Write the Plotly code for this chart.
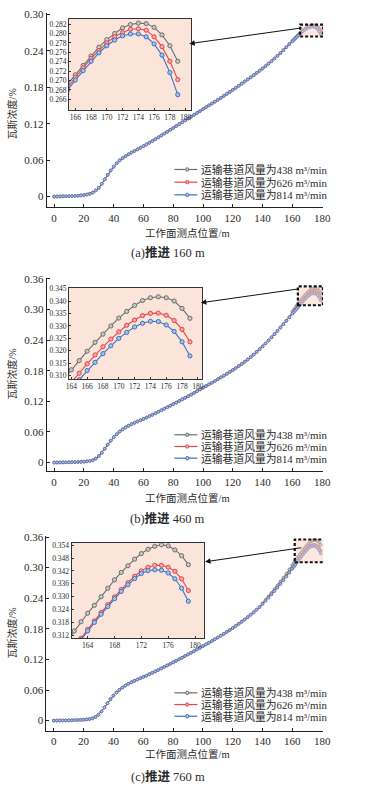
import plotly.graph_objects as go

# ---------------- data ----------------
series_names = ["运输巷道风量为438 m³/min", "运输巷道风量为626 m³/min", "运输巷道风量为814 m³/min"]
caption_tags = ["(a)", "(b)", "(c)"]
caption_words = ["推进", "推进", "推进"]
caption_dists = ["160 m", "460 m", "760 m"]
x_title = "工作面测点位置/m"
y_title = "瓦斯浓度/%"

main_xticks = [0, 20, 40, 60, 80, 100, 120, 140, 160, 180]
main_yticks_a = [0, 0.06, 0.12, 0.18, 0.24, 0.30]
main_yticktext_a = ["0", "0.06", "0.12", "0.18", "0.24", "0.30"]
main_yticks_bc = [0, 0.06, 0.12, 0.18, 0.24, 0.30, 0.36]
main_yticktext_bc = ["0", "0.06", "0.12", "0.18", "0.24", "0.30", "0.36"]

inset_xticks_a = [166, 168, 170, 172, 174, 176, 178, 180]
inset_yticks_a = [0.266, 0.268, 0.270, 0.272, 0.274, 0.276, 0.278, 0.280, 0.282]
inset_xticks_b = [164, 166, 168, 170, 172, 174, 176, 178, 180]
inset_yticks_b = [0.310, 0.315, 0.320, 0.325, 0.330, 0.335, 0.340, 0.345]
inset_xticks_c = [164, 168, 172, 176, 180]
inset_yticks_c = [0.312, 0.318, 0.324, 0.330, 0.336, 0.342, 0.348, 0.354]

# shared part of the curves (x = 0, 2, 4, ...)
base_x_a = list(range(0, 160, 2))
base_y_a = [0.0000, 0.0001, 0.0002, 0.0003, 0.0004, 0.0006, 0.0008, 0.0011, 0.0014, 0.0019,
            0.0025, 0.0033, 0.0046, 0.0066, 0.0100, 0.0145, 0.0210, 0.0282, 0.0358, 0.0430,
            0.0493, 0.0548, 0.0595, 0.0634, 0.0667, 0.0697, 0.0725, 0.0752, 0.0778, 0.0804,
            0.0830, 0.0858, 0.0886, 0.0915, 0.0945, 0.0975, 0.1006, 0.1037, 0.1068, 0.1099,
            0.1130, 0.1161, 0.1192, 0.1223, 0.1254, 0.1285, 0.1316, 0.1347, 0.1378, 0.1409,
            0.1440, 0.1471, 0.1502, 0.1533, 0.1564, 0.1595, 0.1627, 0.1660, 0.1692, 0.1725,
            0.1758, 0.1792, 0.1826, 0.1860, 0.1895, 0.1930, 0.1965, 0.2000, 0.2036, 0.2073,
            0.2110, 0.2150, 0.2190, 0.2231, 0.2274, 0.2318, 0.2364, 0.2412, 0.2462, 0.2514]
tail_x_a = list(range(160, 180))
tail_a = [
    [0.2565, 0.2590, 0.2615, 0.2640, 0.2667, 0.2692, 0.2712, 0.2732, 0.2752, 0.2771,
     0.2787, 0.2800, 0.2812, 0.2819, 0.2822, 0.2821, 0.2813, 0.2797, 0.2774, 0.2741],
    [0.2560, 0.2584, 0.2609, 0.2634, 0.2660, 0.2685, 0.2707, 0.2727, 0.2747, 0.2764,
     0.2780, 0.2793, 0.2802, 0.2809, 0.2810, 0.2807, 0.2793, 0.2772, 0.2741, 0.2702],
    [0.2555, 0.2580, 0.2604, 0.2629, 0.2654, 0.2679, 0.2701, 0.2721, 0.2741, 0.2759,
     0.2774, 0.2786, 0.2795, 0.2799, 0.2799, 0.2793, 0.2778, 0.2754, 0.2717, 0.2670],
]

base_x_b = list(range(0, 160, 2))
base_y_b = [0.0000, 0.0001, 0.0002, 0.0003, 0.0004, 0.0005, 0.0007, 0.0009, 0.0011, 0.0014,
            0.0018, 0.0024, 0.0033, 0.0048, 0.0078, 0.0128, 0.0193, 0.0270, 0.0352, 0.0430,
            0.0497, 0.0556, 0.0607, 0.0651, 0.0690, 0.0724, 0.0753, 0.0780, 0.0805, 0.0830,
            0.0855, 0.0882, 0.0909, 0.0937, 0.0966, 0.0995, 0.1025, 0.1055, 0.1085, 0.1115,
            0.1145, 0.1176, 0.1207, 0.1238, 0.1269, 0.1300, 0.1333, 0.1366, 0.1400, 0.1434,
            0.1468, 0.1500, 0.1533, 0.1566, 0.1600, 0.1635, 0.1670, 0.1705, 0.1741, 0.1778,
            0.1815, 0.1854, 0.1894, 0.1935, 0.1977, 0.2020, 0.2069, 0.2118, 0.2170, 0.2223,
            0.2278, 0.2335, 0.2394, 0.2455, 0.2518, 0.2583, 0.2648, 0.2714, 0.2781, 0.2850]
tail_x_b = list(range(160, 180))
tail_b = [
    [0.2960, 0.2998, 0.3040, 0.3082, 0.3123, 0.3160, 0.3198, 0.3234, 0.3267, 0.3300,
     0.3332, 0.3359, 0.3383, 0.3403, 0.3414, 0.3418, 0.3414, 0.3401, 0.3371, 0.3331],
    [0.2930, 0.2965, 0.3001, 0.3037, 0.3073, 0.3109, 0.3147, 0.3183, 0.3216, 0.3247,
     0.3276, 0.3303, 0.3324, 0.3342, 0.3351, 0.3352, 0.3343, 0.3322, 0.3286, 0.3236],
    [0.2915, 0.2947, 0.2980, 0.3012, 0.3045, 0.3083, 0.3120, 0.3153, 0.3188, 0.3220,
     0.3250, 0.3274, 0.3296, 0.3311, 0.3319, 0.3318, 0.3304, 0.3278, 0.3236, 0.3179],
]

base_x_c = list(range(0, 140, 2))
base_y_c = [0.0000, 0.0001, 0.0002, 0.0003, 0.0004, 0.0005, 0.0007, 0.0009, 0.0011, 0.0014,
            0.0018, 0.0023, 0.0031, 0.0045, 0.0072, 0.0118, 0.0180, 0.0258, 0.0340, 0.0420,
            0.0490, 0.0551, 0.0603, 0.0648, 0.0687, 0.0721, 0.0751, 0.0779, 0.0805, 0.0830,
            0.0855, 0.0881, 0.0908, 0.0936, 0.0964, 0.0993, 0.1022, 0.1051, 0.1081, 0.1111,
            0.1141, 0.1172, 0.1203, 0.1234, 0.1266, 0.1298, 0.1330, 0.1362, 0.1395, 0.1428,
            0.1461, 0.1494, 0.1527, 0.1561, 0.1595, 0.1630, 0.1666, 0.1702, 0.1739, 0.1777,
            0.1816, 0.1856, 0.1897, 0.1939, 0.1983, 0.2028, 0.2075, 0.2124, 0.2175, 0.2228]
tail_x_c = list(range(140, 160, 2)) + list(range(160, 180))
tail_c = [
    [0.2300, 0.2366, 0.2434, 0.2504, 0.2576, 0.2650, 0.2726, 0.2804, 0.2884, 0.2966,
     0.3051, 0.3095, 0.3139, 0.3182, 0.3222, 0.3259, 0.3299, 0.3339, 0.3378, 0.3413,
     0.3444, 0.3475, 0.3501, 0.3521, 0.3535, 0.3542, 0.3537, 0.3518, 0.3491, 0.3449],
    [0.2290, 0.2351, 0.2414, 0.2479, 0.2546, 0.2615, 0.2686, 0.2758, 0.2832, 0.2907,
     0.2984, 0.3024, 0.3064, 0.3105, 0.3147, 0.3186, 0.3225, 0.3262, 0.3298, 0.3333,
     0.3365, 0.3395, 0.3420, 0.3437, 0.3446, 0.3446, 0.3437, 0.3418, 0.3383, 0.3328],
    [0.2286, 0.2346, 0.2408, 0.2472, 0.2538, 0.2606, 0.2676, 0.2748, 0.2822, 0.2898,
     0.2976, 0.3016, 0.3057, 0.3098, 0.3139, 0.3179, 0.3217, 0.3253, 0.3290, 0.3324,
     0.3355, 0.3384, 0.3408, 0.3421, 0.3425, 0.3423, 0.3410, 0.3383, 0.3339, 0.3278],
]

# ---------------- styling ----------------
W, H = 365, 804
FONT = "Liberation Serif, Noto Sans CJK SC"
TXT = "#2a2a2a"
line_colors = ["#6e6e6e", "#e2474c", "#3f72bb"]
fill_colors = ["#c8c8c8", "#f5a6a6", "#a8c2e8"]
inset_bg = "#fbe5da"


def fx(px):
    return px / W


def fy(py):
    return 1 - py / H


panels = [
    dict(bx=base_x_a, by=base_y_a, tx=tail_x_a, ty=tail_a,
         main=dict(x=(45, 330), y=(8, 204), yr=(-0.018, 0.3025), yt=main_yticks_a, ytt=main_yticktext_a),
         inset=dict(x=(68, 194), y=(14, 106), xr=(165.2, 180.7), yr=(0.2637, 0.2831),
                    xt=inset_xticks_a, yt=inset_yticks_a),
         arrow=((192, 39), (306, 23)),
         legend_rows=(165.7, 178.5, 191.3),
         xtitle_y=230, caption_y=249, ytitle_y=110),
    dict(bx=base_x_b, by=base_y_b, tx=tail_x_b, ty=tail_b,
         main=dict(x=(45, 330), y=(275, 470), yr=(-0.0175, 0.362), yt=main_yticks_bc, ytt=main_yticktext_bc),
         inset=dict(x=(68, 205), y=(285, 377), xr=(163.7, 180.5), yr=(0.3085, 0.3454),
                    xt=inset_xticks_b, yt=inset_yticks_b),
         arrow=((204, 300), (302.7, 286)),
         legend_rows=(433, 444.8, 456.6),
         xtitle_y=496.7, caption_y=517, ytitle_y=372),
    dict(bx=base_x_c, by=base_y_c, tx=tail_x_c, ty=tail_c,
         main=dict(x=(44.7, 330), y=(535, 731), yr=(-0.0195, 0.362), yt=main_yticks_bc, ytt=main_yticktext_bc),
         inset=dict(x=(70.7, 207), y=(541.7, 638), xr=(161.6, 181.3), yr=(0.3105, 0.3552),
                    xt=inset_xticks_c, yt=inset_yticks_c),
         arrow=((208.3, 561), (306, 546.7)),
         legend_rows=(693, 704.8, 716.6),
         xtitle_y=755, caption_y=777, ytitle_y=633),
]

fig = go.Figure()
layout = dict(width=W, height=H, margin=dict(l=0, r=0, t=0, b=0),
              paper_bgcolor="white", plot_bgcolor="rgba(0,0,0,0)",
              font=dict(family=FONT, color=TXT, size=11), showlegend=False)
shapes = []
annotations = []

for i, p in enumerate(panels):
    mi = 2 * i + 1
    ii = 2 * i + 2
    mxa, mya = f"x{mi if mi > 1 else ''}", f"y{mi if mi > 1 else ''}"
    ixa, iya = f"x{ii}", f"y{ii}"
    m, ins = p["main"], p["inset"]

    layout[f"xaxis{mi if mi > 1 else ''}"] = dict(
        domain=[fx(m["x"][0]), fx(m["x"][1])], anchor=mya, range=[-5, 180.6],
        tickvals=main_xticks, ticks="inside", ticklen=3, tickcolor="#222",
        showline=True, linecolor="#222", linewidth=1, showgrid=False, zeroline=False,
        tickfont=dict(size=11, family=FONT, color=TXT))
    layout[f"yaxis{mi if mi > 1 else ''}"] = dict(
        domain=[fy(m["y"][1]), fy(m["y"][0])], anchor=mxa, range=list(m["yr"]),
        tickvals=m["yt"], ticktext=m["ytt"], ticks="inside", ticklen=3, tickcolor="#222",
        showline=True, linecolor="#222", linewidth=1, showgrid=False, zeroline=False,
        tickfont=dict(size=11, family=FONT, color=TXT))
    layout[f"xaxis{ii}"] = dict(
        domain=[fx(ins["x"][0]), fx(ins["x"][1])], anchor=iya, range=list(ins["xr"]),
        tickvals=ins["xt"], ticks="inside", ticklen=2, tickcolor="#333",
        showline=True, mirror=True, linecolor="#333", linewidth=1, showgrid=False, zeroline=False,
        tickfont=dict(size=7.5, family=FONT, color=TXT))
    layout[f"yaxis{ii}"] = dict(
        domain=[fy(ins["y"][1]), fy(ins["y"][0])], anchor=ixa, range=list(ins["yr"]),
        tickvals=ins["yt"], tickformat=".3f", ticks="inside", ticklen=2, tickcolor="#333",
        showline=True, mirror=True, linecolor="#333", linewidth=1, showgrid=False, zeroline=False,
        tickfont=dict(size=7.5, family=FONT, color=TXT))

    # inset background
    shapes.append(dict(type="rect", xref="paper", yref="paper", layer="below",
                       x0=fx(ins["x"][0]), x1=fx(ins["x"][1]), y0=fy(ins["y"][1]), y1=fy(ins["y"][0]),
                       fillcolor=inset_bg, line=dict(width=0)))

    for s in range(3):
        xs = p["bx"] + p["tx"]
        ys = p["by"] + p["ty"][s]
        fig.add_trace(go.Scatter(
            x=xs, y=ys, xaxis=mxa, yaxis=mya, mode="lines+markers", name=series_names[s],
            line=dict(color=line_colors[s], width=1),
            marker=dict(symbol="circle", size=2.7, color=fill_colors[s],
                        line=dict(color=line_colors[s], width=0.7)),
            showlegend=False))
    for s in range(3):
        fig.add_trace(go.Scatter(
            x=p["tx"], y=p["ty"][s], xaxis=ixa, yaxis=iya, mode="lines+markers", name=series_names[s],
            line=dict(color=line_colors[s], width=1.1),
            marker=dict(symbol="circle", size=4.2, color=fill_colors[s],
                        line=dict(color=line_colors[s], width=1)),
            showlegend=False))

    # zoom box on main plot
    shapes.append(dict(type="rect", xref=mxa, yref=mya, layer="above",
                       x0=ins["xr"][0], x1=ins["xr"][1], y0=ins["yr"][0], y1=ins["yr"][1],
                       fillcolor="rgba(248,205,188,0.45)",
                       line=dict(color="#111", width=2.2, dash="3px,2px")))

    # arrow (tail offset given in pixels from the head)
    (hx, hy), (tx, ty) = p["arrow"]
    annotations.append(dict(x=fx(hx), y=fy(hy), xref="paper", yref="paper",
                            axref="pixel", ayref="pixel", ax=tx - hx, ay=ty - hy,
                            text="", showarrow=True,
                            arrowhead=2, arrowsize=1.1, arrowwidth=1, arrowcolor="#111", standoff=0))

    # legend
    for s, ry in enumerate(p["legend_rows"]):
        shapes.append(dict(type="line", xref="paper", yref="paper",
                           x0=fx(176.7), x1=fx(200.5), y0=fy(ry), y1=fy(ry),
                           line=dict(color=line_colors[s], width=1.2)))
        shapes.append(dict(type="circle", xref="paper", yref="paper",
                           x0=fx(188.3), x1=fx(191.7), y0=fy(ry + 1.7), y1=fy(ry - 1.7),
                           fillcolor=fill_colors[s], line=dict(color=line_colors[s], width=1)))
        annotations.append(dict(x=fx(201.7), y=fy(ry), xref="paper", yref="paper", text=series_names[s],
                                showarrow=False, xanchor="left", yanchor="middle",
                                font=dict(size=10.8, family=FONT, color=TXT)))

    annotations.append(dict(x=fx(190), y=fy(p["xtitle_y"]), xref="paper", yref="paper", text=x_title,
                            showarrow=False, xanchor="center", yanchor="middle",
                            font=dict(size=10.5, family=FONT, color=TXT)))
    annotations.append(dict(x=fx(9.5), y=fy(p["ytitle_y"]), xref="paper", yref="paper", text=y_title,
                            showarrow=False, xanchor="center", yanchor="middle", textangle=-90,
                            font=dict(size=10, family=FONT, color=TXT)))
    annotations.append(dict(x=fx(170), y=fy(p["caption_y"]), xref="paper", yref="paper",
                            text=caption_tags[i] + "<b>" + caption_words[i] + "</b> " + caption_dists[i],
                            showarrow=False, xanchor="center", yanchor="middle",
                            font=dict(size=12.5, family=FONT, color=TXT)))

layout["shapes"] = shapes
layout["annotations"] = annotations
fig.update_layout(**layout)
fig.write_html("out.html", config={"displayModeBar": False},
               post_script="document.body.style.margin='0';")
